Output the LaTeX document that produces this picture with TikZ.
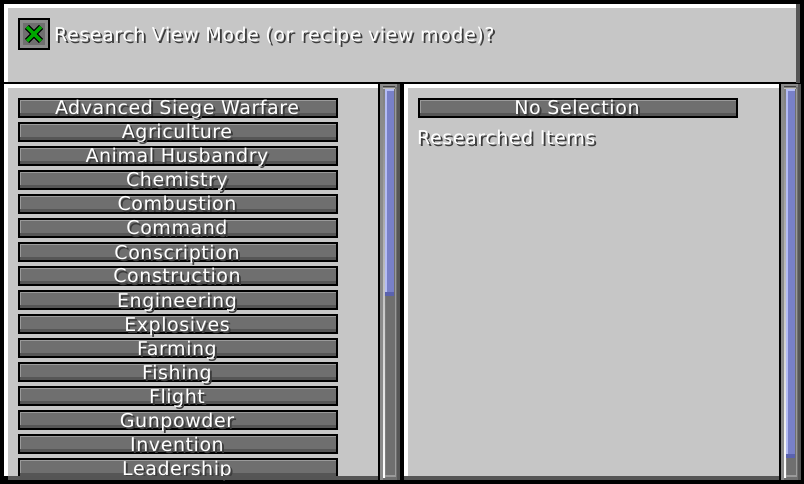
\documentclass[tikz,border=0pt]{standalone}
\usepackage{fontspec}
\setmainfont{DejaVu Sans}
\newfontfamily\gamefont[LetterSpace=3]{DejaVu Sans}
\usetikzlibrary{calc}
\definecolor{edge}{HTML}{000000}
\definecolor{panel}{HTML}{C6C6C6}
\definecolor{rim}{HTML}{555555}
\definecolor{btnface}{HTML}{6F6F6F}
\definecolor{btnlight}{HTML}{9A9A9A}
\definecolor{btndark}{HTML}{565656}
\definecolor{trackface}{HTML}{6F6F6F}
\definecolor{trackout}{HTML}{8B8B8B}
\definecolor{slideface}{HTML}{7880C8}
\definecolor{slidelight}{HTML}{B4BCF4}
\definecolor{slidedark}{HTML}{5A62AE}
\definecolor{tick}{HTML}{00A800}
\definecolor{shade}{HTML}{3C3C3C}
\newcommand{\shadowed}[1]{\rlap{\kern2pt\raisebox{-2pt}{\textcolor{shade}{#1}}}#1}
\tikzset{
  pane/.style={fill=panel, draw=none},
  whiteline/.style={fill=white, draw=none},
  btn/.style={draw=edge, line width=2pt, fill=btnface, minimum width=318pt, minimum height=18pt, inner sep=0pt, outer sep=0pt, anchor=north west,
    path picture={
      \fill[btnlight] (path picture bounding box.north west) rectangle ([yshift=-2pt]path picture bounding box.north east);
      \fill[btnlight] (path picture bounding box.north west) rectangle ([xshift=2pt]path picture bounding box.south west);
      \fill[btndark] (path picture bounding box.south west) rectangle ([yshift=4pt]path picture bounding box.south east);
    }},
  lab/.style={text=white, font=\gamefont\fontsize{19}{21}\selectfont, inner sep=0pt}
}
\begin{document}
\begin{tikzpicture}[x=1pt,y=-1pt]
  \useasboundingbox (0,0) rectangle (804,484);
  \fill[edge] (0,0) rectangle (804,484);
  % top pane
  \fill[whiteline] (4,4) rectangle (796,8);
  \fill[whiteline] (4,4) rectangle (8,82);
  \fill[pane] (8,8) rectangle (796,82);
  \fill[rim] (796,4) rectangle (800,83);
  % left list pane
  \fill[whiteline] (4,84) rectangle (378,88);
  \fill[whiteline] (4,84) rectangle (8,476);
  \fill[pane] (8,88) rectangle (378,476);
  % right pane
  \fill[whiteline] (404,84) rectangle (779,88);
  \fill[whiteline] (404,84) rectangle (408,476);
  \fill[pane] (408,88) rectangle (779,476);
  % scroll bars
  \foreach \sx/\sy in {380/296,781/458}{
    \fill[trackface] (\sx,84) rectangle (\sx+20,480);
    \fill[trackout] (\sx,84) rectangle (\sx+3,480);
    \fill[trackout] (\sx,84) rectangle (\sx+20,87);
    \fill[btndark] (\sx+17,84) rectangle (\sx+20,480);
    \fill[shade] (\sx+3,87) rectangle (\sx+5,477);
    \fill[shade] (\sx+3,87) rectangle (\sx+15,89);
    \fill[btnlight] (\sx+15,89) rectangle (\sx+16,476);
    \fill[btnlight] (\sx+5,475) rectangle (\sx+16,477);
    \fill[slideface] (\sx+5,89) rectangle (\sx+14,\sy);
    \fill[slidelight] (\sx+5,89) rectangle (\sx+7,\sy-4);
    \fill[slidelight] (\sx+5,89) rectangle (\sx+14,91);
    \fill[slidedark] (\sx+5,\sy-4) rectangle (\sx+14,\sy);
  }
  % check box
  \node[draw=edge, line width=2pt, fill=trackout, minimum size=30pt, inner sep=0pt, outer sep=0pt, anchor=north west] (box) at (19,19) {};
  \fill[btnface] (23,23) rectangle (45,45);
  \draw[edge, line width=6pt] (27,27) -- (41,41) (41,27) -- (27,41);
  \draw[tick, line width=3.5pt] (27,27) -- (41,41) (41,27) -- (27,41);
  % question
  \node[lab, anchor=base west] (ask) at (54,42) {\shadowed{Research View Mode (or recipe view mode)?}};
  % list of topics
  \foreach \name [count=\i from 0] in {Advanced Siege Warfare,Agriculture,Animal Husbandry,Chemistry,Combustion,Command,Conscription,Construction,Engineering,Explosives,Farming,Fishing,Flight,Gunpowder,Invention,Leadership}{
    \node[btn] (item\i) at (19,99+24*\i) {};
    \node[lab, anchor=base] (itemt\i) at (177,115+24*\i) {\shadowed{\name}};
  }
  \fill[rim] (8,476) rectangle (378,480);
  \fill[rim] (404,476) rectangle (779,480);
  % right column
  \node[btn] (sel) at (419,99) {};
  \node[lab, anchor=base] (selt) at (577,115) {\shadowed{No Selection}};
  \node[lab, anchor=base west] (items) at (417,145) {\shadowed{Researched Items}};
\end{tikzpicture}
\end{document}
